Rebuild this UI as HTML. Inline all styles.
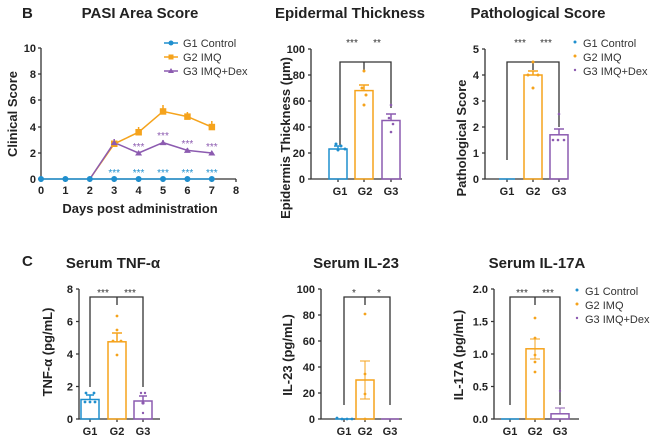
<!DOCTYPE html>
<html><head><meta charset="utf-8"><style>
html,body{margin:0;padding:0;background:#fff}
svg{display:block;font-family:"Liberation Sans",sans-serif}
.t{font-size:15px;font-weight:bold;fill:#222}
.k{font-size:11px;font-weight:bold;fill:#222}
.a{font-size:13px;font-weight:bold;fill:#222}
.l{font-size:11px;fill:#333}
.s{font-size:10px;fill:#333}
</style></head><body>
<svg width="650" height="439" viewBox="0 0 650 439">
<g stroke="#333" stroke-width="1.3" fill="none">
<path d="M41 48V179H236"/>
<path d="M38 48H41M38 74H41M38 100H41M38 127H41M38 153H41M38 179H41"/>
<path d="M41 179v3M65.4 179v3M89.8 179v3M114.2 179v3M138.6 179v3M163 179v3M187.4 179v3M211.8 179v3M236 179v3"/>
<path d="M311 49V179H402"/>
<path d="M308 49H311M308 75H311M308 101H311M308 127H311M308 153H311M308 179H311"/>
<path d="M338 179v3M364 179v3M391 179v3"/>
<path d="M340 145V62H364V70M364 62H391V108"/>
<path d="M485 49V179H567"/>
<path d="M482 49H485M482 75H485M482 101H485M482 127H485M482 153H485M482 179H485"/>
<path d="M507 179v3M533 179v3M559 179v3"/>
<path d="M507 160V62H533V70M533 62H559V127"/>
<!-- TNF -->
<path d="M79 289V419H160"/>
<path d="M76 289H79M76 321.5H79M76 354H79M76 386.5H79M76 419H79"/>
<path d="M90 419v3M117 419v3M143 419v3"/>
<path d="M90 387V297H117V305M117 297H143V387"/>
<!-- IL-23 -->
<path d="M321 289V419H402"/>
<path d="M318 289H321M318 315H321M318 341H321M318 367H321M318 393H321M318 419H321"/>
<path d="M344 419v3M365 419v3M390 419v3"/>
<path d="M344 405V297H365V305M365 297H390V405"/>
<!-- IL-17A -->
<path d="M494 289V419H579"/>
<path d="M491 289H494M491 321.5H494M491 354H494M491 386.5H494M491 419H494"/>
<path d="M510 419v3M535 419v3M560 419v3"/>
<path d="M510 405V297H535V305M535 297H560V405"/>
</g>
<text class="t" x="22" y="18">B</text>
<text class="t" x="140" y="18" text-anchor="middle">PASI Area Score</text>
<text class="t" x="350" y="18" text-anchor="middle">Epidermal Thickness</text>
<text class="t" x="538" y="18" text-anchor="middle">Pathological Score</text>
<text class="t" x="22" y="266">C</text>
<text class="t" x="113" y="268" text-anchor="middle">Serum TNF-α</text>
<text class="t" x="356" y="268" text-anchor="middle">Serum IL-23</text>
<text class="t" x="537" y="268" text-anchor="middle">Serum IL-17A</text>
<g class="k" text-anchor="end">
<text x="36" y="52">10</text><text x="36" y="78">8</text><text x="36" y="104">6</text><text x="36" y="131">4</text><text x="36" y="157">2</text><text x="36" y="183">0</text>
</g>
<g class="k" text-anchor="middle">
<text x="41" y="194">0</text><text x="65.4" y="194">1</text><text x="89.8" y="194">2</text><text x="114.2" y="194">3</text><text x="138.6" y="194">4</text><text x="163" y="194">5</text><text x="187.4" y="194">6</text><text x="211.8" y="194">7</text><text x="236" y="194">8</text>
</g>
<text class="a" x="140" y="213" text-anchor="middle">Days post administration</text>
<text class="a" transform="translate(17,114) rotate(-90)" text-anchor="middle">Clinical Score</text>
<g fill="none" stroke-width="1.5">
<polyline stroke="#f5a31c" points="89.8,179 114.2,143.9 138.6,132.2 163,111.4 187.4,116.6 211.8,127"/>
<polyline stroke="#8c5bb0" points="89.8,179 114.2,142.6 138.6,153 163,142.6 187.4,150.4 211.8,153"/>
<polyline stroke="#1f8fce" points="41,179 211.8,179"/>
<path stroke="#f5a31c" d="M138.6 132v-5M163 111v-6M187.4 116v-4M211.8 127v-6"/>
<path stroke="#8c5bb0" d="M114.2 143v-4M163 143v-3M187.4 150v-2"/>
</g>
<g fill="#f5a31c"><rect x="111" y="140.5" width="6.5" height="6.5"/><rect x="135.4" y="129" width="6.5" height="6.5"/><rect x="159.8" y="108.2" width="6.5" height="6.5"/><rect x="184.2" y="113.4" width="6.5" height="6.5"/><rect x="208.6" y="123.8" width="6.5" height="6.5"/></g>
<g fill="#8c5bb0"><path d="M114.2 139.6l3.5 5.5h-7zM138.6 150l3.5 5.5h-7zM163 139.6l3.5 5.5h-7zM187.4 147.4l3.5 5.5h-7zM211.8 150l3.5 5.5h-7z"/></g>
<g fill="#1f8fce"><circle cx="41" cy="179" r="3"/><circle cx="65.4" cy="179" r="3"/><circle cx="89.8" cy="179" r="3"/><circle cx="114.2" cy="179" r="3"/><circle cx="138.6" cy="179" r="3"/><circle cx="163" cy="179" r="3"/><circle cx="187.4" cy="179" r="3"/><circle cx="211.8" cy="179" r="3"/></g>
<g class="s" text-anchor="middle" style="fill:#8c5bb0">
<text x="138.6" y="150">***</text><text x="163" y="139">***</text><text x="187.4" y="147">***</text><text x="211.8" y="150">***</text></g>
<g class="s" text-anchor="middle" style="fill:#1f8fce">
<text x="114.2" y="176">***</text><text x="138.6" y="176">***</text><text x="163" y="176">***</text><text x="187.4" y="176">***</text><text x="211.8" y="176">***</text></g>
<g stroke-width="1.5"><path d="M164 43h14" stroke="#1f8fce"/><path d="M164 57h14" stroke="#f5a31c"/><path d="M164 71h14" stroke="#8c5bb0"/></g>
<circle cx="171" cy="43" r="2.5" fill="#1f8fce"/><rect x="168.5" y="54.5" width="5" height="5" fill="#f5a31c"/><path d="M171 68l3 5h-6z" fill="#8c5bb0"/>
<g class="l"><text x="183" y="47">G1 Control</text><text x="183" y="61">G2 IMQ</text><text x="183" y="75">G3 IMQ+Dex</text></g>
<g fill="none" stroke-width="1.5">
<rect x="329" y="149" width="18" height="30" stroke="#1f8fce"/>
<rect x="355" y="90.6" width="18" height="88.4" stroke="#f5a31c"/>
<rect x="382" y="120.5" width="18" height="58.5" stroke="#8c5bb0"/>
<path stroke="#1f8fce" d="M334 146h8M338 146v3"/>
<path stroke="#f5a31c" d="M359 85h10M364 85v6"/>
<path stroke="#8c5bb0" d="M386 114h10M391 114v6"/>
</g>
<g fill="#1f8fce"><circle cx="336" cy="144" r="1.5"/><circle cx="341" cy="146" r="1.5"/><circle cx="345" cy="149" r="1.5"/><circle cx="338" cy="150" r="1.5"/></g>
<g fill="#f5a31c"><circle cx="364" cy="71" r="1.5"/><circle cx="362" cy="88" r="1.5"/><circle cx="366" cy="95" r="1.5"/><circle cx="364" cy="105" r="1.5"/></g>
<g fill="#8c5bb0"><circle cx="391" cy="105" r="1.3"/><circle cx="389" cy="118" r="1.3"/><circle cx="393" cy="124" r="1.3"/><circle cx="391" cy="132" r="1.3"/></g>
<g class="k" text-anchor="end"><text x="305" y="53">100</text><text x="305" y="79">80</text><text x="305" y="105">60</text><text x="305" y="131">40</text><text x="305" y="157">20</text><text x="305" y="183">0</text></g>
<g class="k" text-anchor="middle"><text x="340" y="195">G1</text><text x="365" y="195">G2</text><text x="391" y="195">G3</text></g>
<g class="s" text-anchor="middle"><text x="352" y="46">***</text><text x="377" y="46">**</text></g>
<text class="a" transform="translate(290,138) rotate(-90)" text-anchor="middle">Epidermis Thickness (μm)</text>
<g fill="none" stroke-width="1.5">
<path stroke="#1f8fce" d="M499 179h16"/>
<rect x="524" y="75" width="18" height="104" stroke="#f5a31c"/>
<rect x="550" y="134.8" width="18" height="44.2" stroke="#8c5bb0"/>
<path stroke="#f5a31c" d="M528 71h10M533 71v4"/>
<path stroke="#8c5bb0" d="M554 129h10M559 129v6"/>
</g>
<g fill="#f5a31c"><circle cx="533" cy="62" r="1.5"/><circle cx="528" cy="75" r="1.5"/><circle cx="538" cy="75" r="1.5"/><circle cx="533" cy="88" r="1.5"/></g>
<g fill="#8c5bb0"><circle cx="559" cy="114" r="1.3"/><circle cx="553" cy="140" r="1.3"/><circle cx="558" cy="140" r="1.3"/><circle cx="564" cy="140" r="1.3"/></g>
<g class="k" text-anchor="end"><text x="479" y="53">5</text><text x="479" y="79">4</text><text x="479" y="105">3</text><text x="479" y="131">2</text><text x="479" y="157">1</text><text x="479" y="183">0</text></g>
<g class="k" text-anchor="middle"><text x="507" y="195">G1</text><text x="533" y="195">G2</text><text x="559" y="195">G3</text></g>
<g class="s" text-anchor="middle"><text x="520" y="46">***</text><text x="546" y="46">***</text></g>
<text class="a" transform="translate(466,138) rotate(-90)" text-anchor="middle">Pathological Score</text>
<circle cx="575" cy="42" r="1.5" fill="#1f8fce"/><circle cx="575" cy="56" r="1.5" fill="#f5a31c"/><circle cx="575" cy="70" r="1.2" fill="#8c5bb0"/>
<g class="l"><text x="583" y="47">G1 Control</text><text x="583" y="61">G2 IMQ</text><text x="583" y="75">G3 IMQ+Dex</text></g>
<!-- TNF -->
<g fill="none" stroke-width="1.5">
<rect x="81" y="399.5" width="18" height="19.5" stroke="#1f8fce"/>
<rect x="108" y="341.8" width="18" height="77.2" stroke="#f5a31c"/>
<rect x="134" y="401" width="18" height="18" stroke="#8c5bb0"/>
<path stroke="#1f8fce" d="M86 395h8M90 395v5"/>
<path stroke="#f5a31c" d="M112 333h10M117 333v9"/>
<path stroke="#8c5bb0" d="M139 396h8M143 396v5"/>
</g>
<g fill="#1f8fce"><circle cx="86" cy="393" r="1.4"/><circle cx="94" cy="393" r="1.4"/><circle cx="85" cy="402" r="1.4"/><circle cx="90" cy="402" r="1.4"/><circle cx="95" cy="402" r="1.4"/></g>
<g fill="#f5a31c"><circle cx="117" cy="316" r="1.4"/><circle cx="117" cy="330" r="1.4"/><circle cx="113" cy="341" r="1.4"/><circle cx="121" cy="341" r="1.4"/><circle cx="117" cy="355" r="1.4"/></g>
<g fill="#8c5bb0"><circle cx="141" cy="393" r="1.2"/><circle cx="145" cy="393" r="1.2"/><circle cx="143" cy="403" r="1.6"/><circle cx="143" cy="413" r="1.2"/></g>
<g class="k" text-anchor="end"><text x="73" y="293">8</text><text x="73" y="325.5">6</text><text x="73" y="358">4</text><text x="73" y="390.5">2</text><text x="73" y="423">0</text></g>
<g class="k" text-anchor="middle"><text x="90" y="435">G1</text><text x="117" y="435">G2</text><text x="143" y="435">G3</text></g>
<g class="s" text-anchor="middle"><text x="103" y="296">***</text><text x="130" y="296">***</text></g>
<text class="a" transform="translate(52,352) rotate(-90)" text-anchor="middle">TNF-α (pg/mL)</text>
<!-- IL-23 -->
<g fill="none" stroke-width="1.5">
<path stroke="#1f8fce" d="M335 419h18"/>
<rect x="356" y="380" width="18" height="39" stroke="#f5a31c"/>
<path stroke="#8c5bb0" d="M381 419h18"/>
<path stroke="#f5a31c" stroke-width="1" d="M360 361h10M365 361v19M360 399h10M365 399v-19"/>
</g>
<g fill="#f5a31c"><circle cx="365" cy="314" r="1.4"/><circle cx="365" cy="374" r="1.4"/><circle cx="365" cy="394" r="1.4"/><circle cx="365" cy="419" r="1.4"/></g>
<g fill="#1f8fce"><circle cx="337" cy="418" r="1.4"/><circle cx="342" cy="419" r="1.4"/><circle cx="347" cy="419" r="1.4"/><circle cx="352" cy="419" r="1.4"/></g>
<g class="k" text-anchor="end"><text x="315" y="293">100</text><text x="315" y="319">80</text><text x="315" y="345">60</text><text x="315" y="371">40</text><text x="315" y="397">20</text><text x="315" y="423">0</text></g>
<g class="k" text-anchor="middle"><text x="344" y="435">G1</text><text x="365" y="435">G2</text><text x="390" y="435">G3</text></g>
<g class="s" text-anchor="middle"><text x="354" y="296">*</text><text x="379" y="296">*</text></g>
<text class="a" transform="translate(292,355) rotate(-90)" text-anchor="middle">IL-23 (pg/mL)</text>
<!-- IL-17A -->
<g fill="none" stroke-width="1.5">
<path stroke="#1f8fce" d="M501 419h18"/>
<rect x="526" y="348.8" width="18" height="70.2" stroke="#f5a31c"/>
<rect x="551" y="413.8" width="18" height="5.2" stroke="#8c5bb0"/>
<path stroke="#f5a31c" stroke-width="1" d="M530 339h10M535 339v10M530 359h10M535 359v-10"/>
<path stroke="#8c5bb0" stroke-width="1" d="M555 408h10M560 408v6"/>
</g>
<g fill="#f5a31c"><circle cx="535" cy="318" r="1.4"/><circle cx="535" cy="338" r="1.4"/><circle cx="535" cy="355" r="1.4"/><circle cx="535" cy="362" r="1.4"/><circle cx="535" cy="372" r="1.4"/></g>
<g fill="#8c5bb0"><circle cx="560" cy="391" r="1.2"/></g>
<g class="k" text-anchor="end"><text x="488" y="293">2.0</text><text x="488" y="325.5">1.5</text><text x="488" y="358">1.0</text><text x="488" y="390.5">0.5</text><text x="488" y="423">0.0</text></g>
<g class="k" text-anchor="middle"><text x="510" y="435">G1</text><text x="535" y="435">G2</text><text x="560" y="435">G3</text></g>
<g class="s" text-anchor="middle"><text x="522" y="296">***</text><text x="548" y="296">***</text></g>
<text class="a" transform="translate(463,355) rotate(-90)" text-anchor="middle">IL-17A (pg/mL)</text>
<circle cx="577" cy="290" r="1.5" fill="#1f8fce"/><circle cx="577" cy="304" r="1.5" fill="#f5a31c"/><circle cx="577" cy="318" r="1.2" fill="#8c5bb0"/>
<g class="l"><text x="585" y="295">G1 Control</text><text x="585" y="309">G2 IMQ</text><text x="585" y="323">G3 IMQ+Dex</text></g>
</svg>
</body></html>
